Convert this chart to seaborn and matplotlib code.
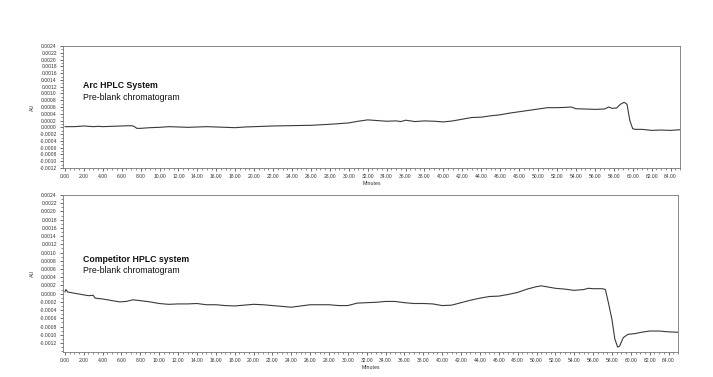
import numpy as np
import pandas as pd
import matplotlib
matplotlib.use("Agg")
import matplotlib.pyplot as plt
import seaborn as sns
from matplotlib.ticker import MultipleLocator, FormatStrFormatter, FuncFormatter

# ---- data ----
arc_time = [0, 1, 2, 3, 3.5, 4, 5, 6, 7, 7.3, 7.6, 8, 9, 10, 11, 12, 13, 14, 15, 16, 17, 18,
            19, 20, 22, 24, 26, 28, 29, 30, 31, 32, 33, 34, 35, 35.5, 36, 37, 38, 39, 40, 41,
            42, 43, 44, 45, 46, 47, 48, 49, 50, 51, 52, 53, 53.5, 54, 55, 56, 57, 57.5, 57.8,
            58.3, 58.7, 59.1, 59.4, 59.7, 60.0, 60.3, 61, 62, 63, 64, 65]
arc_au = [0.00002, 0.00002, 0.00004, 0.00002, 0.00003, 0.00002, 0.00003, 0.00004, 0.00005,
          0.00003, -0.00003, -0.00003, -0.00001, 0.00000, 0.00002, 0.00001, 0.00000, 0.00001,
          0.00002, 0.00001, 0.00000, -0.00001, 0.00001, 0.00002, 0.00004, 0.00005, 0.00006,
          0.00009, 0.00011, 0.00013, 0.00018, 0.00022, 0.00020, 0.00018, 0.00019, 0.00017,
          0.00021, 0.00017, 0.00019, 0.00018, 0.00016, 0.00019, 0.00024, 0.00029, 0.00030,
          0.00034, 0.00037, 0.00042, 0.00046, 0.00050, 0.00054, 0.00058, 0.00058, 0.00059,
          0.00060, 0.00055, 0.00054, 0.00053, 0.00054, 0.00060, 0.00056, 0.00057, 0.00068,
          0.00074, 0.00068, 0.00020, -0.00004, -0.00006, -0.00006, -0.00009, -0.00008,
          -0.00009, -0.00007]

comp_time = [0, 0.1, 0.3, 1, 2, 2.5, 3, 3.2, 4, 5, 5.8, 6.5, 7.2, 8, 9, 10, 11, 12, 13, 14,
             15, 16, 17, 18, 19, 20, 21, 22, 23, 24, 25, 26, 27, 28, 29, 30, 31, 32, 33, 34,
             35, 36, 37, 38, 39, 40, 41, 42, 43, 44, 45, 46, 47, 48, 49, 50, 50.5, 51, 52, 53,
             54, 55, 55.5, 56, 57, 57.3, 57.6, 58.0, 58.3, 58.6, 58.8, 59.2, 59.7, 60.5, 61.1,
             62, 63, 64, 65]
comp_au = [0.00004, 0.00010, 0.00004, 0.00001, -0.00003, -0.00005, -0.00004, -0.00011,
           -0.00013, -0.00017, -0.00020, -0.00019, -0.00015, -0.00017, -0.00020, -0.00024,
           -0.00026, -0.00025, -0.00025, -0.00024, -0.00027, -0.00027, -0.00029, -0.00030,
           -0.00028, -0.00026, -0.00027, -0.00029, -0.00031, -0.00033, -0.00030, -0.00027,
           -0.00027, -0.00027, -0.00029, -0.00029, -0.00023, -0.00022, -0.00021, -0.00019,
           -0.00019, -0.00022, -0.00024, -0.00024, -0.00025, -0.00029, -0.00028, -0.00022,
           -0.00016, -0.00011, -0.00007, -0.00006, -0.00002, 0.00003, 0.00011, 0.00017,
           0.00019, 0.00017, 0.00013, 0.00011, 0.00008, 0.00010, 0.00013, 0.00012, 0.00012,
           0.00010, -0.00020, -0.00063, -0.00110, -0.00130, -0.00128, -0.00107, -0.00099,
           -0.00097, -0.00094, -0.00091, -0.00091, -0.00093, -0.00094]

y_ticks = [-0.0012, -0.0010, -0.0008, -0.0006, -0.0004, -0.0002, 0.0000, 0.0002, 0.0004,
           0.0006, 0.0008, 0.0010, 0.0012, 0.0014, 0.0016, 0.0018, 0.0020, 0.0022, 0.0024]
titles = ["Arc HPLC System", "Competitor HPLC system"]
subtitle = "Pre-blank chromatogram"
x_label = "Minutes"
y_label = "AU"

# ---- figure ----
sns.set_theme(style="ticks")
plt.rcParams['font.family'] = ['Liberation Sans', 'DejaVu Sans']

fig = plt.figure(figsize=(7.13, 3.77), dpi=100)
ax1 = fig.add_axes([63/713, 1 - 168/377, 617/713, 122/377])
ax2 = fig.add_axes([63/713, 1 - 352/377, 615/713, 157/377])

df1 = pd.DataFrame({"t": arc_time, "au": arc_au})
df2 = pd.DataFrame({"t": comp_time, "au": comp_au})

line_color = "#3a3a3a"
sns.lineplot(data=df1, x="t", y="au", ax=ax1, color=line_color, linewidth=0.8)
sns.lineplot(data=df2, x="t", y="au", ax=ax2, color=line_color, linewidth=0.8)


def yfmt(v, pos):
    v = round(v, 6)
    if abs(v) < 1e-9:
        v = 0.0
    return f"{v:.4f}"


ylims = [(-0.0012, 0.0024), (-0.00142, 0.0024)]
title_y = [0.71, 0.62]
for ax, yl, ttl, ty in zip([ax1, ax2], ylims, titles, title_y):
    ax.set_xlim(-0.2, 65)
    ax.set_ylim(*yl)
    ax.set_yticks(y_ticks)
    ax.yaxis.set_major_formatter(FuncFormatter(yfmt))
    ax.xaxis.set_major_locator(MultipleLocator(2))
    ax.xaxis.set_minor_locator(MultipleLocator(0.5))
    ax.yaxis.set_minor_locator(MultipleLocator(0.0001))
    ax.xaxis.set_major_formatter(FormatStrFormatter('%.2f'))
    ax.tick_params(axis='both', which='major', labelsize=3.6, length=2.5, width=0.5,
                   colors='#333333', pad=2)
    ax.tick_params(axis='both', which='minor', length=1.3, width=0.4, colors='#333333')
    for s in ax.spines.values():
        s.set_visible(True)
        s.set_linewidth(0.6)
        s.set_color('#777777')
    ax.set_xlabel(x_label, fontsize=3.8, labelpad=1.5, color='#333333')
    ax.set_ylabel(y_label, fontsize=3.8, labelpad=3, color='#333333')
    ax.text(0.032, ty, ttl, transform=ax.transAxes, fontsize=6.3, fontweight='bold',
            color='#111111', va='top', ha='left')
    ax.text(0.032, ty - 0.095 * (122 / (ax.get_position().height * 377)), subtitle,
            transform=ax.transAxes, fontsize=6.3, color='#111111', va='top', ha='left')

fig.savefig("out.png", dpi=100, facecolor="white")
